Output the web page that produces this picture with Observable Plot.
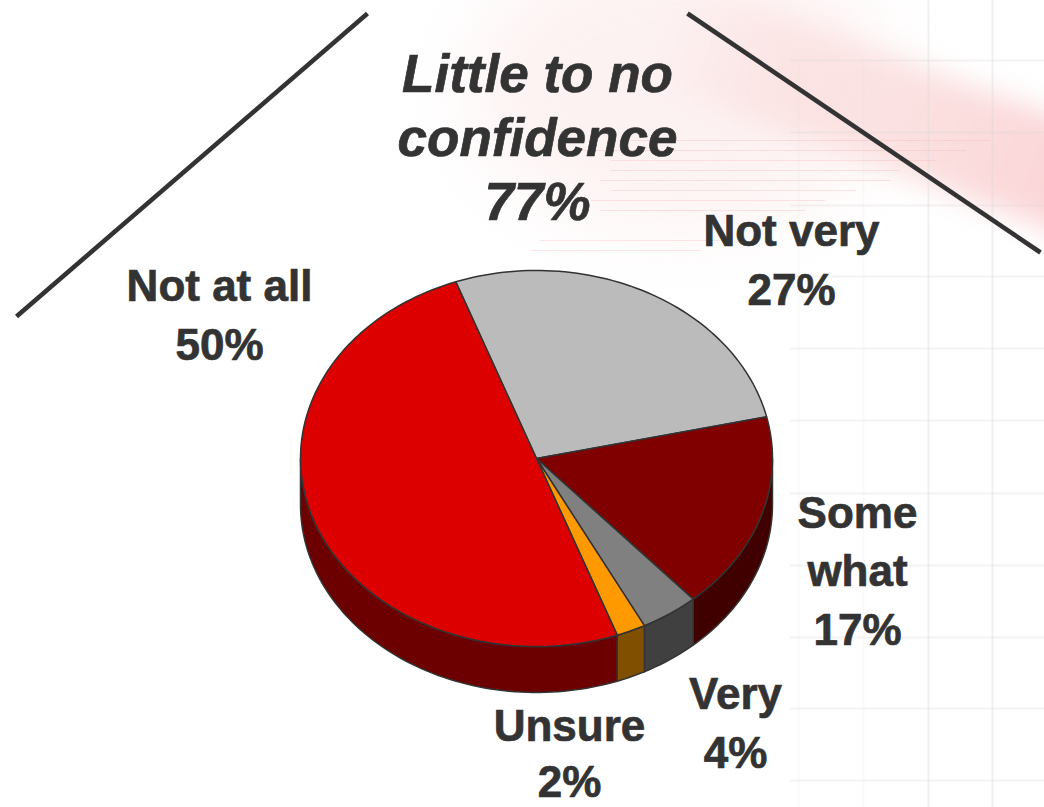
<!DOCTYPE html>
<html>
<head>
<meta charset="utf-8">
<script src="https://cdn.jsdelivr.net/npm/d3@7"></script>
<script src="https://cdn.jsdelivr.net/npm/@observablehq/plot@0.6"></script>
<style>
  html, body { margin: 0; padding: 0; background: #fff; overflow: hidden; }
  #stage { position: relative; width: 1044px; height: 807px; overflow: hidden; }
  .smudge { position: absolute; }
  #chart { position: absolute; left: 0; top: 0; }
  #chart svg { background: transparent; display: block; }
</style>
</head>
<body>
<div id="stage">
  <div class="smudge" style="left:470px;top:-60px;width:420px;height:290px;border-radius:50%;background:#fdeeee;opacity:.75;filter:blur(36px)"></div>
  <div class="smudge" style="left:640px;top:70px;width:560px;height:108px;border-radius:40px;background:linear-gradient(90deg,rgba(251,217,218,0) 0%,rgba(251,226,226,.85) 22%,#fbe0e0 50%,#fbd6d8 75%,#fbd6d8 100%);transform:rotate(20deg);filter:blur(14px)"></div>
  <div id="chart"></div>
</div>
<script>
// Data
const categories = ["Not at all", "Not very", "Some what", "Very", "Unsure"];
const percents   = [50, 27, 17, 4, 2];
const topColors  = ["#dd0000", "#bbbbbb", "#800000", "#808080", "#ff9900"];
const sideColors = ["#6c0000", "#6f6f6f", "#400000", "#404040", "#805000"];
const pieLabels  = ["Not at all\n50%", "Not very\n27%", "Some\nwhat\n17%", "Very\n4%", "Unsure\n2%"];
const groupLabel = "Little to no\nconfidence\n77%";

// Layout of the drawing
const W = 1044, H = 807;
const pie = {cx: 536, cy: 458, rx: 236, ry: 188, depth: 46, startDeg: -20};
const ink = "#333333";
const rad = Math.PI / 180;

const px = (t) => pie.cx + pie.rx * Math.sin(t * rad);
const py = (t, d = 0) => pie.cy - pie.ry * Math.cos(t * rad) + d;

// Slice angles come from the percentages. Order round the pie: Not very, Some what, Very, Unsure, Not at all
const order = [1, 2, 3, 4, 0];
const total = d3.sum(percents);
let acc = pie.startDeg;
const slices = order.map((i) => {
  const a0 = acc;
  acc += (percents[i] / total) * 360;
  return {i, a0, a1: acc};
});

const arc = (a, b) => {
  const n = Math.max(2, Math.ceil(Math.abs(b - a) / 1.5));
  return d3.range(n + 1).map((k) => a + ((b - a) * k) / n);
};

const topPts = slices.flatMap(({i, a0, a1}) => [
  {name: categories[i], x: pie.cx, y: pie.cy},
  ...arc(a0, a1).map((t) => ({name: categories[i], x: px(t), y: py(t)})),
  {name: categories[i], x: pie.cx, y: pie.cy}
]);

const sidePts = slices.flatMap(({i, a0, a1}) => {
  const from = Math.max(a0, 90), to = Math.min(a1, 270);
  if (to <= from) return [];
  const name = categories[i] + " side";
  const ts = arc(from, to);
  const upper = ts.map((t) => ({name, x: px(t), y: py(t)}));
  const lower = ts.slice().reverse().map((t) => ({name, x: px(t), y: py(t, pie.depth)}));
  return [...upper, ...lower, upper[0]];
});

// Faint page background
const gridX = [928, 992];
const gridXFaint = [798, 863];
const gridY = [60, 132, 205, 276, 348, 420, 493, 565, 637, 708, 780];
const streaks = [
  [620, 990, 140], [560, 965, 150], [610, 935, 160], [610, 900, 170],
  [600, 890, 180], [610, 855, 190], [590, 825, 200], [600, 805, 210],
  [540, 720, 240], [530, 700, 250]
].map(([x1, x2, y]) => ({x1, x2, y}));

// Callout lines
const callouts = [
  {x1: 16, y1: 316, x2: 367, y2: 13},
  {x1: 687, y1: 13, x2: 1040, y2: 252}
];

const textBase = {
  frameAnchor: "top-left",
  fontFamily: "'Liberation Sans', Arial, sans-serif",
  fontWeight: 700,
  fill: ink,
  stroke: ink,
  strokeWidth: 0.7,
  textAnchor: "middle",
  lineAnchor: "middle",
  text: (d) => d
};
const label = (i, dx, dy, lineHeight = 1.345) =>
  Plot.text([pieLabels[i]], {...textBase, fontSize: 44, lineHeight, dx, dy});

const plot = Plot.plot({
  width: W, height: H,
  margin: 0,
  x: {domain: [0, W], range: [0, W], axis: null},
  y: {domain: [0, H], range: [0, H], axis: null},
  color: {
    type: "ordinal",
    domain: [...categories, ...categories.map((c) => c + " side")],
    range: [...topColors, ...sideColors]
  },
  style: {background: "transparent"},
  marks: [
    Plot.ruleX(gridX, {x: (d) => d, y1: 0, y2: H, stroke: "#dcd8d8", strokeWidth: 2, strokeOpacity: 0.38}),
    Plot.ruleX(gridXFaint, {x: (d) => d, y1: 60, y2: H, stroke: "#dcd8d8", strokeWidth: 2, strokeOpacity: 0.13}),
    Plot.ruleY(gridY, {y: (d) => d, x1: 790, x2: W, stroke: "#dcd8d8", strokeWidth: 2, strokeOpacity: 0.3}),
    Plot.link(streaks, {x1: "x1", x2: "x2", y1: "y", y2: "y", stroke: "#f4a9a4", strokeWidth: 1.2, strokeOpacity: 0.28}),
    Plot.link(callouts, {x1: "x1", y1: "y1", x2: "x2", y2: "y2", stroke: ink, strokeWidth: 4.6}),
    Plot.line(sidePts, {x: "x", y: "y", z: "name", fill: "name", stroke: ink, strokeWidth: 1.5, strokeLinejoin: "round"}),
    Plot.line(topPts, {x: "x", y: "y", z: "name", fill: "name", stroke: ink, strokeWidth: 1.5, strokeLinejoin: "round"}),
    Plot.text([groupLabel], {...textBase, fontSize: 53, fontStyle: "italic", lineHeight: 1.205, dx: 537, dy: 135}),
    label(0, 219, 311),
    label(1, 791, 256),
    label(2, 857, 567, 1.33),
    label(3, 735, 719),
    label(4, 569, 751, 1.27)
  ]
});
document.getElementById("chart").appendChild(plot);
</script>
</body>
</html>
